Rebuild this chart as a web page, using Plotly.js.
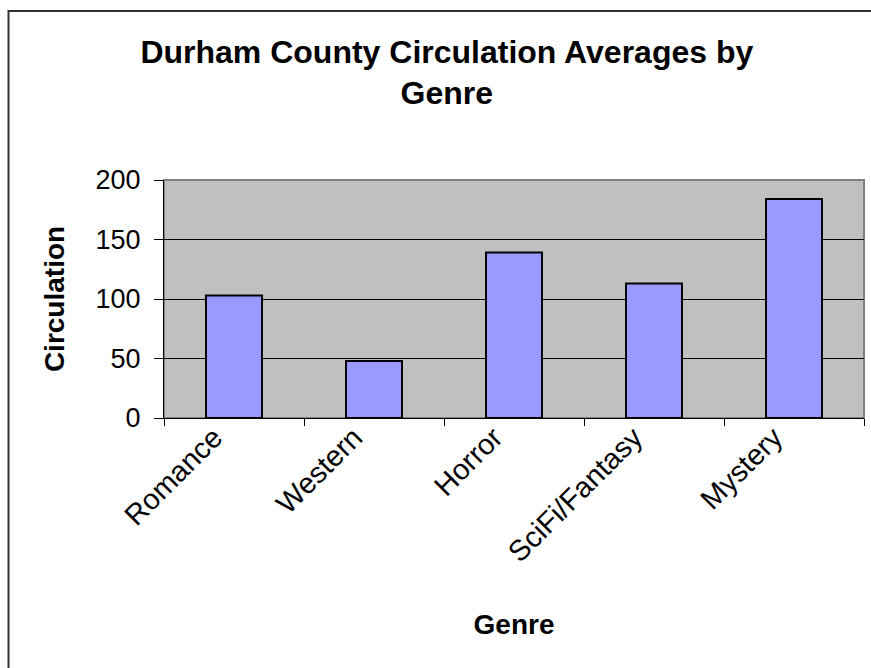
<!DOCTYPE html>
<html>
<head>
<meta charset="utf-8">
<script src="https://cdn.plot.ly/plotly-3.0.1.min.js"></script>
<style>
  html, body { margin: 0; padding: 0; background: #ffffff; }
  #chart { width: 871px; height: 668px; }
</style>
</head>
<body>
<div id="chart"></div>
<script>
// Average circulation per genre
const genres = ['Romance', 'Western', 'Horror', 'SciFi/Fantasy', 'Mystery'];
const circulation = [103, 48, 139, 113, 184];
const yTicks = [0, 50, 100, 150, 200];

const FONT = '"Liberation Sans", Arial, sans-serif';

const trace = {
  type: 'bar',
  x: genres,
  y: circulation,
  marker: { color: '#9999ff', line: { color: '#000000', width: 2 } },
  hoverinfo: 'x+y'
};

const layout = {
  width: 871,
  height: 668,
  margin: { l: 164, r: 7, t: 180, b: 250, pad: 0 },
  paper_bgcolor: '#ffffff',
  plot_bgcolor: '#c0c0c0',
  font: { family: FONT, color: '#000000' },
  showlegend: false,
  bargap: 0.6,
  title: {
    text: 'Durham County Circulation Averages by<br>Genre',
    font: { family: FONT, size: 32, color: '#000000', weight: 'bold' },
    xref: 'container', x: 0.513, xanchor: 'center',
    yref: 'container', y: 0.906, yanchor: 'top'
  },
  xaxis: {
    type: 'category',
    tickangle: -45,
    tickson: 'boundaries',
    ticks: 'outside', ticklen: 7, tickwidth: 1, tickcolor: '#000000',
    ticklabelshift: -20,
    ticklabelstandoff: -10,
    tickfont: { family: FONT, size: 29, color: '#000000' },
    showline: true, linecolor: '#000000', linewidth: 1,
    showgrid: false,
    automargin: false,
    title: {
      text: 'Genre',
      font: { family: FONT, size: 28, color: '#000000', weight: 'bold' },
      standoff: 47
    }
  },
  yaxis: {
    range: [0, 200],
    tickvals: yTicks,
    ticktext: yTicks.map(String),
    ticks: 'outside', ticklen: 9, tickwidth: 1, tickcolor: '#000000',
    ticklabelstandoff: 8,
    tickfont: { family: FONT, size: 27, color: '#000000' },
    showline: true, linecolor: '#000000', linewidth: 1,
    showgrid: true, gridcolor: '#000000', gridwidth: 1,
    zeroline: false,
    automargin: false,
    title: {
      text: 'Circulation',
      font: { family: FONT, size: 28, color: '#000000', weight: 'bold' },
      standoff: 22
    }
  },
  shapes: [
    // plot area border
    {
      type: 'rect', xref: 'paper', yref: 'paper',
      x0: 0, x1: 1, y0: 0, y1: 1,
      line: { color: '#808080', width: 2 }, layer: 'below'
    },
    // chart frame
    {
      type: 'rect', xref: 'paper', yref: 'paper',
      x0: (8.5 - 164) / 700, x1: (880 - 164) / 700,
      y0: (418 - 680) / 238, y1: (418 - 11) / 238,
      line: { color: '#333333', width: 2 }, fillcolor: 'rgba(0,0,0,0)'
    }
  ]
};

Plotly.newPlot('chart', [trace], layout, { displayModeBar: false, staticPlot: true });
</script>
</body>
</html>
